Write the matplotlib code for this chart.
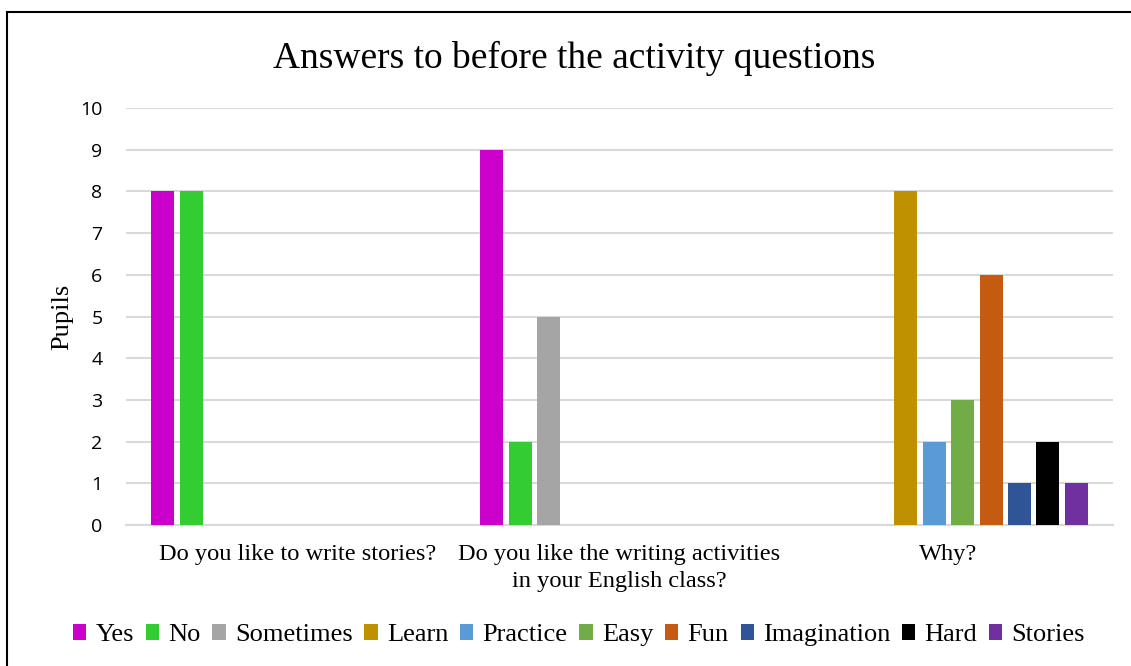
import numpy as np
import matplotlib.pyplot as plt
import matplotlib.transforms as mtransforms
from matplotlib.patches import Rectangle

categories = ["Do you like to write stories?",
              "Do you like the writing activities\nin your English class?",
              "Why?"]
series_names = ["Yes", "No", "Sometimes", "Learn", "Practice", "Easy",
                "Fun", "Imagination", "Hard", "Stories"]
yes = [8, 9, 0]
no = [8, 2, 0]
sometimes = [0, 5, 0]
learn = [0, 0, 8]
practice = [0, 0, 2]
easy = [0, 0, 3]
fun = [0, 0, 6]
imagination = [0, 0, 1]
hard = [0, 0, 2]
stories = [0, 0, 1]
colors = ["#CC00CC", "#33CC33", "#A5A5A5", "#BF9000", "#5B9BD5",
          "#70AD47", "#C55A11", "#2F5597", "#000000", "#7030A0"]

values = [yes, no, sometimes, learn, practice, easy, fun, imagination, hard, stories]

serif = "Liberation Serif"
sans = "Open Sans"

fig = plt.figure(figsize=(11.31, 6.66), dpi=100)
ax = fig.add_axes([0.1114, 0.2117, 0.8727, 0.6261])

x = np.arange(len(categories))
step = 0.0863
width = 0.0699
for i, (name, vals) in enumerate(zip(series_names, values)):
    ax.bar(x + (i - 4.5) * step, vals, width, color=colors[i], label=name, zorder=3)

ax.set_xlim(-0.5, 2.5)
ax.set_ylim(0, 10)
ax.set_yticks(range(0, 11))
ax.yaxis.grid(True, color="#D9D9D9", linewidth=1.5, zorder=0)
for s in ["top", "right", "left"]:
    ax.spines[s].set_visible(False)
ax.spines["bottom"].set_color("#D9D9D9")
ax.spines["bottom"].set_linewidth(1.5)
ax.tick_params(axis="both", length=0)
ax.tick_params(axis="y", pad=17)
ax.tick_params(axis="x", pad=14)
ax.set_xticks(x)
ax.set_xticklabels(categories, family=serif, fontsize=17.6, linespacing=1.35)
for lab in ax.get_yticklabels():
    lab.set_family(sans)
    lab.set_fontsize(14)

# first category label sits a little right of centre in the original
first = ax.get_xticklabels()[0]
first.set_transform(first.get_transform() +
                    mtransforms.ScaledTranslation(0.07, 0, fig.dpi_scale_trans))

ax.set_ylabel("Pupils", family=serif, fontsize=19, labelpad=5)

fig.text(0.508, 0.912, "Answers to before the activity questions",
         family=serif, fontsize=27, ha="center", va="center")

leg = fig.legend(loc="center", bbox_to_anchor=(0.512, 0.046), ncol=10,
                 frameon=False, handlelength=0.5, handleheight=0.5,
                 handletextpad=0.35, columnspacing=0.45,
                 prop={"family": serif, "size": 19})

fig.patches.append(Rectangle((7 / 1131, -0.02), 1.1, 0.02 + 1 - 12 / 666,
                             transform=fig.transFigure, fill=False,
                             edgecolor="black", linewidth=1.5))

fig.savefig("out.png", dpi=100)
